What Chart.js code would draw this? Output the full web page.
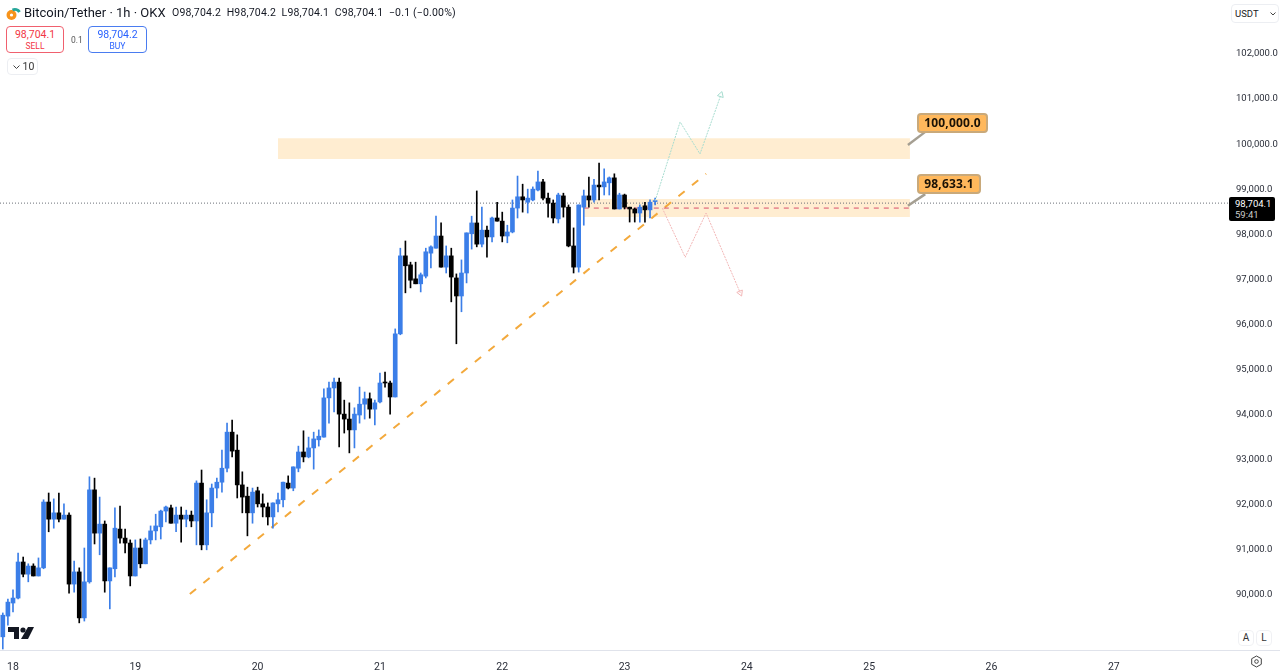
<!DOCTYPE html>
<html>
<head>
<meta charset="utf-8">
<script src="https://cdn.jsdelivr.net/npm/chart.js@4"></script>
<style>
  html, body { margin: 0; padding: 0; background: #fff; overflow: hidden; }
  body { width: 1280px; height: 672px; position: relative; font-family: Roboto, sans-serif; color: #131722; }
  canvas { position: absolute; left: 0; top: 0; }
  .txt { position: absolute; white-space: nowrap; }
  .box { position: absolute; box-sizing: border-box; border-radius: 4px; text-align: center; background: #fff; }
  .callout { position: absolute; box-sizing: border-box; background: #ffb85c; border: 2px solid #c9a97a; border-radius: 4px;
    font: bold 12px "Open Sans", sans-serif; color: #1a1206; text-align: center; letter-spacing: 0.2px; }
</style>
</head>
<body>
<canvas id="chart" width="1280" height="672"></canvas>

<svg class="txt" style="left:6px;top:4px" width="16" height="17" viewBox="0 0 16 17">
  <circle cx="5.5" cy="11" r="5" fill="#f7931a"/>
  <path d="M6.5 6 A5.5 5.5 0 0 1 13.5 8" fill="none" stroke="#26a69a" stroke-width="3"/>
  <circle cx="5.5" cy="11" r="1.6" fill="#fff"/>
</svg>
<div class="txt" style="left:24px;top:4px;font-size:13px;line-height:17px">Bitcoin/Tether · 1h · OKX</div>
<div class="txt" style="left:172px;top:6px;font-size:10.5px;line-height:14px;letter-spacing:0.18px">O98,704.2&nbsp; H98,704.2&nbsp; L98,704.1&nbsp; C98,704.1&nbsp; −0.1 (−0.00%)</div>

<div class="box" style="left:6px;top:26px;width:58px;height:27px;border:1px solid #f0606e;color:#f23645">
  <div style="font-size:10.5px;line-height:13px;margin-top:1px">98,704.1</div><div style="font-size:8.5px;line-height:10px">SELL</div>
</div>
<div class="txt" style="left:71px;top:35px;font-size:8.5px;color:#555">0.1</div>
<div class="box" style="left:88px;top:26px;width:59px;height:27px;border:1px solid #4a7cf0;color:#2962ff">
  <div style="font-size:10.5px;line-height:13px;margin-top:1px">98,704.2</div><div style="font-size:8.5px;line-height:10px">BUY</div>
</div>
<div class="box" style="left:7px;top:58px;width:31px;height:17px;border:1px solid #eceef2;font-size:10.5px;line-height:15px;color:#333">
  <svg style="position:absolute;left:5px;top:6px" width="7" height="5"><path d="M0.5 0.5 L3.5 3.5 L6.5 0.5" fill="none" stroke="#444"/></svg>
  <span style="margin-left:12px">10</span>
</div>

<div class="box" style="left:1231px;top:4px;width:48px;height:19px;border:1px solid #eceef2;font-size:9.5px;line-height:17px;text-align:left;padding-left:3px;color:#222">USDT
  <svg style="position:absolute;left:38px;top:7px" width="6" height="4"><path d="M0.5 0.5 L3 3 L5.5 0.5" fill="none" stroke="#444"/></svg>
</div>

<div class="callout" style="left:917px;top:113px;width:71px;height:20px;line-height:16px">100,000.0</div>
<div class="callout" style="left:917px;top:174px;width:64px;height:20px;line-height:16px">98,633.1</div>

<div style="position:absolute;left:1229px;top:197px;width:46px;height:24px;background:#000;border-radius:2px;color:#fff;font-size:9.5px;line-height:11px;padding-left:6px;box-sizing:border-box;padding-top:1px">98,704.1<br><span style="color:#ccc">59:41</span></div>

<div style="position:absolute;left:0;top:650px;width:1280px;height:1px;background:#e0e3eb"></div>

<!-- tv logo -->
<svg class="txt" style="left:8px;top:626px" width="27" height="14" viewBox="0 0 27 14">
  <path d="M0 1 H11 V13 H6 V6 H0 Z" fill="#131722"/>
  <circle cx="15" cy="4" r="2.6" fill="#131722"/>
  <path d="M20 1 H26 L20 13 H13 Z" fill="#131722"/>
</svg>

<div class="box" style="left:1238px;top:630px;width:16px;height:16px;border:1px solid #f0f1f4;font-size:10px;line-height:14px;color:#333">A</div>
<div class="box" style="left:1256px;top:630px;width:16px;height:16px;border:1px solid #f0f1f4;font-size:10px;line-height:14px;color:#333">L</div>
<svg class="txt" style="left:1250px;top:655px" width="13" height="13" viewBox="0 0 13 13">
  <path d="M6.5 1 L11.3 3.7 V9.3 L6.5 12 L1.7 9.3 V3.7 Z" fill="none" stroke="#444"/>
  <circle cx="6.5" cy="6.5" r="1.8" fill="none" stroke="#444"/>
</svg>

<script>
// candles, one per hour
const opens = [89050,89510,89800,89910,90710,90440,90620,90400,90580,92040,91660,91800,91660,91750,90220,90490,89470,90270,92310,91350,91550,90290,90560,91440,91240,91130,90400,91020,90670,91200,91400,91490,91840,91910,91570,91750,91660,91750,91620,92460,91090,91800,92350,92480,92790,93590,93190,92420,92170,91800,92290,92000,91930,91710,92000,92090,92460,92350,92790,93150,93040,93240,93420,93480,94350,94570,94700,93990,93880,93640,93970,94210,94330,94100,94260,94700,94680,94370,95770,97500,97300,96990,96880,97050,97560,97670,97940,97250,97500,97010,96610,97120,97990,98230,97760,98070,97920,98340,98270,97940,98030,98560,98810,98690,98740,98960,99140,98780,98670,98320,98830,98580,97720,97250,98580,98830,98740,99070,99030,99120,99230,98540,98850,98580,98540,98450,98610,98520,98704];
const highs = [89580,89890,90090,90910,90820,90670,90670,90800,92090,92240,92110,92240,92000,91800,90730,90580,91020,92600,92570,92150,91620,90580,91910,91950,91440,91200,91200,91220,91240,91510,91770,91860,91950,91970,91930,91930,91860,91840,92510,92750,92090,92440,92570,93190,93790,93860,93530,92710,92370,92350,92370,92220,92020,92020,92240,92480,92620,92820,93280,93620,93480,93590,93640,94550,94700,94790,94790,94300,94240,94130,94590,94480,94460,94300,94900,94920,94720,95880,97670,97830,97360,97360,97120,97670,97720,98380,98230,97720,97670,97100,97410,98010,98380,98940,98580,98160,98360,98690,98470,98180,98740,99270,99090,98980,99030,99380,99200,98890,98740,98890,98890,98630,98120,98630,98960,99250,99200,99560,99430,99250,99320,98890,98870,98580,98560,98630,98690,98740,98780];
const lows = [88780,89310,89600,89890,90380,90270,90400,90400,90560,91380,91460,91600,91660,90020,90040,89360,89400,90240,91110,90870,90040,89670,90380,91130,90910,90180,90400,90580,90670,91110,91200,91220,91600,91570,91380,91150,91490,91490,91090,90980,90980,91490,92130,92260,92710,93040,92130,91800,91290,91570,91930,91710,91530,91460,91820,91930,92330,92290,92710,92930,93020,92770,93280,93480,93790,94040,93260,93570,93130,93240,93790,93880,93900,93750,94240,94590,93990,94370,95750,96680,96790,96880,96700,97010,97230,97670,97250,97120,96480,95550,96260,96900,97650,97700,97700,97470,97810,98270,97810,97790,98010,98340,98470,98450,98720,98940,98740,98360,98230,98230,98360,97700,97120,97140,98180,98580,98690,98740,98850,98850,98540,98540,98540,98250,98250,98250,98250,98340,98630];
const closes = [89530,89820,89910,90710,90440,90620,90400,90580,92040,91660,91800,91660,91750,90220,90490,89470,90270,92310,91350,91550,90290,90580,91460,91240,91130,90400,91020,90670,91200,91400,91510,91840,91930,91570,91750,91660,91750,91620,92460,91090,91800,92350,92480,92790,93590,93170,92420,92150,91800,92260,92000,91930,91710,92020,92090,92480,92350,92820,93150,93040,93240,93440,93500,94350,94570,94700,93990,93880,93640,93990,94210,94330,94100,94240,94680,94680,94370,95770,97500,97280,96960,96880,97080,97590,97700,97940,97250,97500,97030,96610,97120,98010,98230,97760,98070,97920,98340,98270,97940,98030,98560,98810,98740,98780,98980,99140,98780,98670,98340,98850,98580,97720,97250,98630,98830,98740,99070,99030,99140,99230,98540,98850,98580,98540,98450,98580,98520,98690,98704];
// 0 = start of the 18th, one step is an hour
const hours = opens.map((_, i) => i - 2);

const priceTicks = [90000,91000,92000,93000,94000,95000,96000,97000,98000,99000,100000,101000,102000];
const dayTicks = [18,19,20,21,22,23,24,25,26,27];

const priceLine = 98670;
const zoneUpper = { from: 52, to: 176, top: 100110, bottom: 99650 };
const zoneLower = { from: 112, to: 176, top: 98760, bottom: 98360 };
const entryLine = { from: 112, to: 176, price: 98560 };
const trendX = [34.7, 136];
const trendY = [90000, 99320];
const upPathX = [126, 130.9, 134.8, 138.9];
const upPathY = [98720, 100470, 99760, 101070];
const downPathX = [127.4, 131.9, 136, 142.7];
const downPathY = [98560, 97470, 98450, 96680];
const tailUpperX = [175.6, 179];
const tailUpperY = [99960, 100250];
const tailLowerX = [175.6, 179];
const tailLowerY = [98610, 98870];

const upColor = "#3b7ee8";
const downColor = "#000000";
const candleColors = opens.map((o, i) => (closes[i] >= o ? upColor : downColor));

function linePoints(xs, ys) {
  return xs.map((x, i) => ({ x: x, y: ys[i] }));
}

function zoneDataset(z) {
  return {
    type: "line",
    data: [{ x: z.from, y: z.top }, { x: z.to, y: z.top }],
    fill: { value: z.bottom },
    backgroundColor: "rgba(255,226,181,0.62)",
    borderWidth: 0,
    pointRadius: 0,
    order: 10
  };
}

function pathDataset(xs, ys, color, extra) {
  return Object.assign({
    type: "line",
    data: linePoints(xs, ys),
    borderColor: color,
    borderWidth: 1,
    pointRadius: 0,
    tension: 0,
    order: 1
  }, extra);
}

// small arrow head on the last point only
function arrowHead(rotation, color) {
  return {
    borderDash: [2, 1],
    pointStyle: "triangle",
    pointRadius: (ctx) => (ctx.dataIndex === 3 ? 3.5 : 0),
    pointRotation: rotation,
    pointBackgroundColor: "rgba(255,255,255,0)",
    pointBorderColor: color,
    pointBorderWidth: 1
  };
}

new Chart(document.getElementById("chart"), {
  data: {
    datasets: [
      zoneDataset(zoneUpper),
      zoneDataset(zoneLower),
      pathDataset([-2.55, 238.8], [priceLine, priceLine], "#6b6f78", { borderDash: [1, 2], order: 5 }),
      pathDataset([entryLine.from, entryLine.to], [entryLine.price, entryLine.price], "#d8506a", { borderDash: [5, 5], order: 4 }),
      pathDataset(trendX, trendY, "#f3a93c", { borderWidth: 2, borderDash: [8, 9.5], order: 4 }),
      pathDataset(upPathX, upPathY, "#a6dccf", arrowHead(18, "#a6dccf")),
      pathDataset(downPathX, downPathY, "#f2b6b6", arrowHead(157, "#f2b6b6")),
      pathDataset(tailUpperX, tailUpperY, "#a59f92", { borderWidth: 2.5 }),
      pathDataset(tailLowerX, tailLowerY, "#a59f92", { borderWidth: 2.5 }),
      {
        // wicks
        type: "bar",
        data: hours.map((h, i) => ({ x: h, y: [lows[i], highs[i]] })),
        backgroundColor: candleColors,
        barThickness: 1,
        grouped: false,
        order: 3
      },
      {
        // bodies
        type: "bar",
        data: hours.map((h, i) => ({ x: h, y: [Math.min(opens[i], closes[i]), Math.max(opens[i], closes[i])] })),
        backgroundColor: candleColors,
        barThickness: 4,
        minBarLength: 1,
        grouped: false,
        order: 2
      }
    ]
  },
  options: {
    responsive: false,
    animation: false,
    layout: { padding: 0, autoPadding: false },
    plugins: { legend: { display: false }, tooltip: { enabled: false } },
    scales: {
      x: {
        type: "linear",
        offset: false,
        min: -2.55,
        max: 238.8,
        grid: { display: false },
        border: { display: false },
        afterFit: (s) => { s.height = 22; s.paddingLeft = 0; s.paddingRight = 0; },
        afterBuildTicks: (s) => { s.ticks = dayTicks.map((d) => ({ value: (d - 18) * 24 })); },
        ticks: {
          autoSkip: false,
          maxRotation: 0,
          padding: 3,
          color: "#2a2e39",
          font: { family: "Roboto", size: 10.5 },
          callback: (v) => String(18 + v / 24)
        }
      },
      y: {
        type: "linear",
        position: "right",
        min: 88758,
        max: 103175,
        grid: { display: false, drawTicks: false },
        border: { display: false },
        afterFit: (s) => { s.width = 50; s.paddingTop = 0; s.paddingBottom = 0; },
        afterBuildTicks: (s) => { s.ticks = priceTicks.map((p) => ({ value: p })); },
        ticks: {
          autoSkip: false,
          padding: 6,
          labelOffset: 1,
          color: "#2a2e39",
          font: { family: "Roboto", size: 9.5 },
          callback: (v) => v.toLocaleString("en-US", { minimumFractionDigits: 1, maximumFractionDigits: 1 })
        }
      }
    }
  }
});
</script>
</body>
</html>
